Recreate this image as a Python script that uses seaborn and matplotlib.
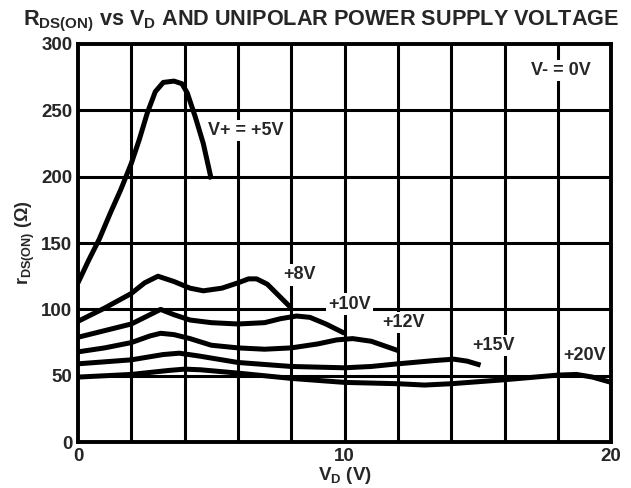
import matplotlib
matplotlib.use("Agg")
import matplotlib.pyplot as plt
import seaborn as sns
import pandas as pd

# curves (V_D in volts, r_DS(ON) in ohms)
vd_5 = [0, 0.4, 0.8, 1.2, 1.6, 2.0, 2.3, 2.6, 2.9, 3.2, 3.6, 3.9, 4.1, 4.4, 4.7, 5.0]
r_5 = [120, 137, 153, 172, 190, 210, 228, 248, 264, 271, 272, 270, 263, 245, 225, 198]

vd_8 = [0, 1, 2, 2.5, 3.0, 3.6, 4.2, 4.7, 5.4, 6.0, 6.4, 6.7, 7.1, 7.5, 8.0]
r_8 = [91, 101, 112, 120, 125, 121, 116, 114, 116, 120, 123, 123, 119, 111, 101]

vd_10 = [0, 1, 2, 2.7, 3.1, 3.6, 4.2, 5, 6, 7, 7.6, 8.2, 8.7, 9.3, 10]
r_10 = [79, 84, 89, 96, 100, 96, 92, 90, 89, 90, 93, 95, 94, 89, 82]

vd_12 = [0, 1, 2, 2.7, 3.1, 3.6, 4.2, 5, 6, 7, 8, 9, 9.7, 10.3, 11, 12]
r_12 = [68, 71, 75, 80, 82, 81, 78, 73, 71, 70, 71, 74, 77, 78, 76, 69]

vd_15 = [0, 2, 3.2, 3.8, 4.5, 6, 8, 10, 11, 12, 13.4, 14.1, 14.6, 15.1]
r_15 = [59, 62, 66, 67, 65, 60, 57, 56, 57, 59, 61.5, 62.5, 61, 58]

vd_20 = [0, 2, 3.4, 4, 4.6, 6, 8, 10, 12, 13, 14, 16, 18, 18.7, 19.3, 20]
r_20 = [49, 51, 54, 55, 54.5, 52, 48, 45, 44, 43, 44, 47, 50.5, 51, 49, 45]

curve_names = ["V+ = +5V", "+8V", "+10V", "+12V", "+15V", "+20V"]
label_x = [6.3, 8.3, 10.2, 12.2, 15.6, 19.0]
label_y = [235, 126, 104, 90, 73, 65]

x_ticks = [0, 10, 20]
y_ticks = [0, 50, 100, 150, 200, 250, 300]

sns.set_style("white")
plt.rcParams["font.family"] = ["Liberation Sans", "DejaVu Sans"]
plt.rcParams["font.weight"] = "bold"
plt.rcParams["mathtext.fontset"] = "custom"
plt.rcParams["mathtext.rm"] = "Liberation Sans:bold"
plt.rcParams["mathtext.it"] = "Liberation Sans:bold"
plt.rcParams["mathtext.bf"] = "Liberation Sans:bold"

frames = []
for name, xs, ys in zip(curve_names,
                        [vd_5, vd_8, vd_10, vd_12, vd_15, vd_20],
                        [r_5, r_8, r_10, r_12, r_15, r_20]):
    frames.append(pd.DataFrame({"vd": xs, "r": ys, "curve": name}))
df = pd.concat(frames, ignore_index=True)

fig = plt.figure(figsize=(6.31, 4.88), dpi=100)
ax = fig.add_axes([0.1236, 0.094, 0.845, 0.816])

# grid drawn first, under the curves
for gx in range(2, 20, 2):
    ax.axvline(gx, color="black", lw=2.2, zorder=1)
for gy in range(50, 300, 50):
    ax.axhline(gy, color="black", lw=2.2, zorder=1)

sns.lineplot(data=df, x="vd", y="r", units="curve", estimator=None,
             color="black", lw=3.6, sort=False, ax=ax, zorder=3,
             solid_joinstyle="round", solid_capstyle="butt")

for name, lx, ly in zip(curve_names, label_x, label_y):
    ax.text(lx, ly, name, ha="center", va="center", fontsize=13,
            fontweight="bold", zorder=4,
            bbox=dict(fc="white", ec="none", pad=1.5))
ax.text(18.1, 280, "V- = 0V", ha="center", va="center", fontsize=13,
        fontweight="bold", zorder=4, bbox=dict(fc="white", ec="none", pad=1.5))

ax.set_xlim(0, 20)
ax.set_ylim(0, 300)
ax.set_xticks(x_ticks)
ax.set_yticks(y_ticks)
ax.tick_params(length=0, labelsize=13.5, pad=4)
for lab in ax.get_xticklabels() + ax.get_yticklabels():
    lab.set_fontweight("bold")
for sp in ax.spines.values():
    sp.set_color("black")
    sp.set_linewidth(2.8)
    sp.set_zorder(5)

ax.set_xlabel(r"$\mathbf{V_D}$ (V)", fontsize=13.5, fontweight="bold", labelpad=0)
ax.set_ylabel(r"$\mathbf{r_{DS(ON)}}$ ($\Omega$)", fontsize=13, fontweight="bold", labelpad=3)
fig.text(0.509, 1 - 25 / 488,
         r"$\mathbf{R_{DS(ON)}}$ vs $\mathbf{V_D}$ AND UNIPOLAR POWER SUPPLY VOLTAGE",
         ha="center", va="baseline", fontsize=15.6, fontweight="bold")

fig.savefig("out.png", dpi=100)
